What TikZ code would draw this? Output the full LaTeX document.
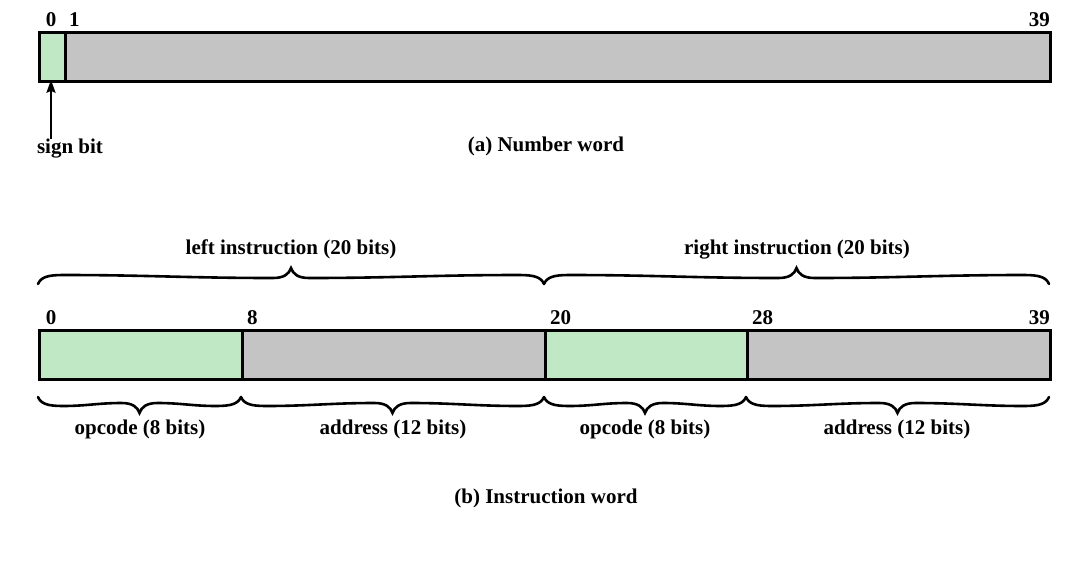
\documentclass[tikz,border=0pt]{standalone}
\usepackage{fontspec}
\setmainfont{Liberation Serif}
\usetikzlibrary{arrows.meta}
\definecolor{opgreen}{RGB}{192,232,196}
\definecolor{addrgray}{RGB}{196,196,196}
% \curlybrace{x1}{x2}{y0}{d}: d=-1 tip up, d=1 tip down (y grows downward)
\newcommand\curlybrace[4]{%
  \pgfmathsetmacro\bm{(#1+#2)/2}%
  \pgfmathsetmacro\pa{#1+25}%
  \pgfmathsetmacro\pb{\bm-18}%
  \pgfmathsetmacro\ca{\pa+0.4*(\pb-\pa)}%
  \pgfmathsetmacro\cb{\pb-0.4*(\pb-\pa)}%
  \pgfmathsetmacro\pc{\bm+18}%
  \pgfmathsetmacro\pd{#2-25}%
  \pgfmathsetmacro\cc{\pc+0.4*(\pd-\pc)}%
  \pgfmathsetmacro\cd{\pd-0.4*(\pd-\pc)}%
  \draw[brc] (#1,#3)
    .. controls ({#1+3},{#3+7*#4}) and ({#1+10},{#3+9*#4}) .. (\pa,{#3+9*#4})
    .. controls (\ca,{#3+9*#4}) and (\cb,{#3+6*#4}) .. (\pb,{#3+6*#4})
    .. controls ({\bm-7},{#3+6*#4}) and ({\bm-2},{#3+10*#4}) .. (\bm,{#3+16*#4})
    .. controls ({\bm+2},{#3+10*#4}) and ({\bm+7},{#3+6*#4}) .. (\pc,{#3+6*#4})
    .. controls (\cc,{#3+6*#4}) and (\cd,{#3+9*#4}) .. (\pd,{#3+9*#4})
    .. controls ({#2-10},{#3+9*#4}) and ({#2-3},{#3+7*#4}) .. (#2,#3);}
\begin{document}
\begin{tikzpicture}[x=1pt,y=-1pt,
  cell/.style={draw=black, line width=2.8pt, inner sep=0pt, anchor=north west, minimum height=49pt},
  lbl/.style={font=\fontsize{21}{24}\selectfont\bfseries, inner sep=0pt},
  brc/.style={line width=2.6pt, line cap=round},
  arr/.style={-{Stealth[length=13pt,width=9pt,inset=2pt]}, line width=2pt}]
\useasboundingbox (0,0) rectangle (1088,587);
% (a) number word
\node[cell, fill=addrgray, minimum width=985pt] (mag) at (64,31) {};
\node[cell, fill=opgreen, minimum width=26pt] (sgn) at (38,31) {};
\node[lbl, anchor=base] (n0) at (51,26) {0};
\node[lbl, anchor=base west] (n1) at (69,26) {1};
\node[lbl, anchor=base east] (n39) at (1050,26) {39};
\node[lbl, anchor=base] (sb) at (70,153) {sign bit};
\coordinate (sbtop) at (51,139);
\draw[arr] (sbtop) -- ([yshift=3pt]sgn.south -| sbtop);
\node[lbl, anchor=base] (capa) at (546,151) {(a) Number word};
% (b) instruction word
\node[cell, fill=opgreen, minimum width=203pt] (op1) at (38,329) {};
\node[cell, fill=addrgray, minimum width=303pt] (ad1) at (241,329) {};
\node[cell, fill=opgreen, minimum width=202pt] (op2) at (544,329) {};
\node[cell, fill=addrgray, minimum width=303pt] (ad2) at (746,329) {};
\node[lbl, anchor=base] (b0) at (51,324) {0};
\node[lbl, anchor=base west] (b8) at (247,324) {8};
\node[lbl, anchor=base west] (b20) at (550,324) {20};
\node[lbl, anchor=base west] (b28) at (752,324) {28};
\node[lbl, anchor=base east] (b39) at (1050,324) {39};
% top braces
\curlybrace{38}{544}{284}{-1}
\curlybrace{544}{1049}{284}{-1}
\node[lbl, anchor=base] (li) at (291,254) {left instruction (20 bits)};
\node[lbl, anchor=base] (ri) at (797,254) {right instruction (20 bits)};
% bottom braces
\curlybrace{38}{241}{397}{1}
\curlybrace{241}{544}{397}{1}
\curlybrace{544}{746}{397}{1}
\curlybrace{746}{1049}{397}{1}
\node[lbl, anchor=base] (o1) at (140,434) {opcode (8 bits)};
\node[lbl, anchor=base] (a1) at (393,434) {address (12 bits)};
\node[lbl, anchor=base] (o2) at (645,434) {opcode (8 bits)};
\node[lbl, anchor=base] (a2) at (897,434) {address (12 bits)};
\node[lbl, anchor=base] (capb) at (546,503) {(b) Instruction word};
\end{tikzpicture}
\end{document}
